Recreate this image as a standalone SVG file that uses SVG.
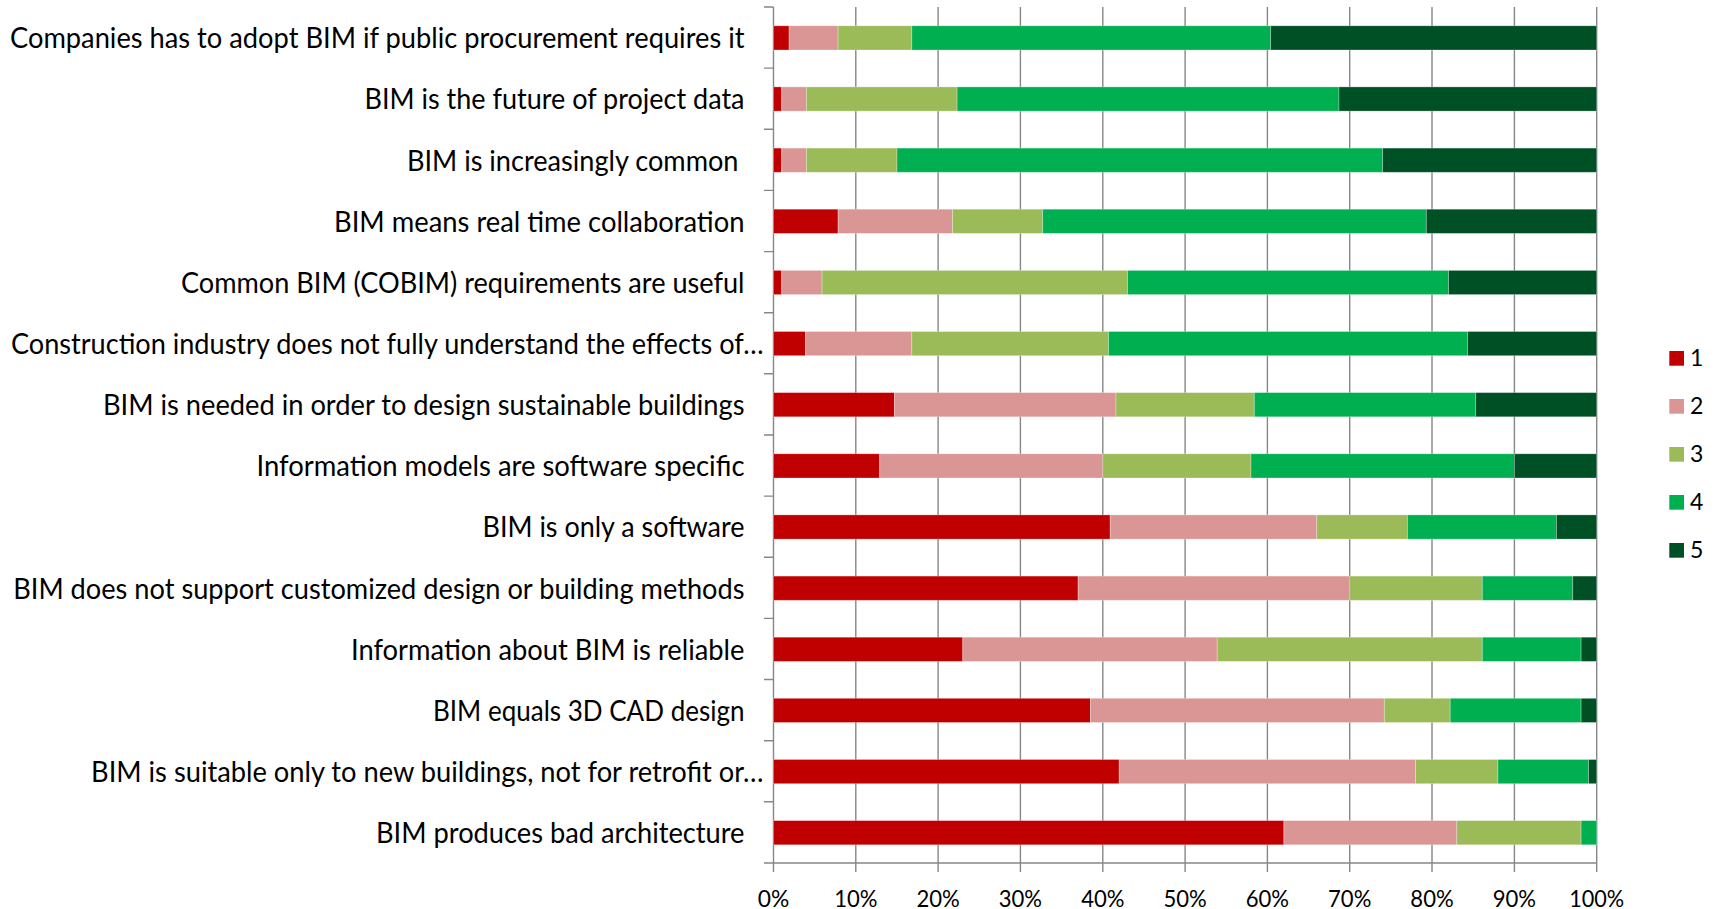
<svg xmlns="http://www.w3.org/2000/svg" width="1719" height="909" viewBox="0 0 1719 909">
<style>
.lbl{font-family:Lato,"Liberation Sans",sans-serif;font-size:28px;fill:#000;text-anchor:end}
.tk{font-family:Lato,"Liberation Sans",sans-serif;font-size:24px;fill:#000;text-anchor:middle}
.lg{font-family:Lato,"Liberation Sans",sans-serif;font-size:23px;fill:#000}
.grid{stroke:#878787;stroke-width:1.4;fill:none}
.c1{fill:#C00000}.c2{fill:#DA9694}.c3{fill:#9BBB59}.c4{fill:#00B050}.c5{fill:#005025}
.bar rect{stroke:#ffffff;stroke-opacity:0.35;stroke-width:0.8}
</style>
<rect width="1719" height="909" fill="#fff"/>
<g id="gridlines" class="grid">
<path d="M855.8 7V872M938.1 7V872M1020.4 7V872M1102.8 7V872M1185.1 7V872M1267.4 7V872M1349.7 7V872M1432 7V872M1514.4 7V872M1596.7 7V872M773.5 863V872"/>
<path d="M773.5 7V863M773.5 863H1596.7"/>
<path d="M764 7H773.5M764 68.1H773.5M764 129.3H773.5M764 190.4H773.5M764 251.6H773.5M764 312.7H773.5M764 373.8H773.5M764 435H773.5M764 496.1H773.5M764 557.3H773.5M764 618.4H773.5M764 679.5H773.5M764 740.7H773.5M764 801.8H773.5M764 863H773.5"/>
</g>
<g id="bars" class="bar">
<g id="row1"><rect class="c1" x="773.5" y="25.8" width="15.6" height="24.2"/><rect class="c2" x="789.1" y="25.8" width="49" height="24.2"/><rect class="c3" x="838.1" y="25.8" width="73.7" height="24.2"/><rect class="c4" x="911.8" y="25.8" width="358.9" height="24.2"/><rect class="c5" x="1270.7" y="25.8" width="326" height="24.2"/></g>
<g id="row2"><rect class="c1" x="773.5" y="86.9" width="8.2" height="24.2"/><rect class="c2" x="781.7" y="86.9" width="24.7" height="24.2"/><rect class="c3" x="806.4" y="86.9" width="150.7" height="24.2"/><rect class="c4" x="957.1" y="86.9" width="381.9" height="24.2"/><rect class="c5" x="1339" y="86.9" width="257.7" height="24.2"/></g>
<g id="row3"><rect class="c1" x="773.5" y="148.1" width="8.2" height="24.2"/><rect class="c2" x="781.7" y="148.1" width="24.7" height="24.2"/><rect class="c3" x="806.4" y="148.1" width="90.6" height="24.2"/><rect class="c4" x="897" y="148.1" width="485.7" height="24.2"/><rect class="c5" x="1382.7" y="148.1" width="214" height="24.2"/></g>
<g id="row4"><rect class="c1" x="773.5" y="209.2" width="64.6" height="24.2"/><rect class="c2" x="838.1" y="209.2" width="114.4" height="24.2"/><rect class="c3" x="952.5" y="209.2" width="90.2" height="24.2"/><rect class="c4" x="1042.7" y="209.2" width="383.6" height="24.2"/><rect class="c5" x="1426.3" y="209.2" width="170.4" height="24.2"/></g>
<g id="row5"><rect class="c1" x="773.5" y="270.4" width="8.2" height="24.2"/><rect class="c2" x="781.7" y="270.4" width="40.4" height="24.2"/><rect class="c3" x="822.1" y="270.4" width="305.4" height="24.2"/><rect class="c4" x="1127.5" y="270.4" width="321" height="24.2"/><rect class="c5" x="1448.5" y="270.4" width="148.2" height="24.2"/></g>
<g id="row6"><rect class="c1" x="773.5" y="331.5" width="32.1" height="24.2"/><rect class="c2" x="805.6" y="331.5" width="106.2" height="24.2"/><rect class="c3" x="911.8" y="331.5" width="196.7" height="24.2"/><rect class="c4" x="1108.5" y="331.5" width="359" height="24.2"/><rect class="c5" x="1467.5" y="331.5" width="129.2" height="24.2"/></g>
<g id="row7"><rect class="c1" x="773.5" y="392.6" width="121" height="24.2"/><rect class="c2" x="894.5" y="392.6" width="221.5" height="24.2"/><rect class="c3" x="1116" y="392.6" width="138.3" height="24.2"/><rect class="c4" x="1254.3" y="392.6" width="221.4" height="24.2"/><rect class="c5" x="1475.7" y="392.6" width="121" height="24.2"/></g>
<g id="row8"><rect class="c1" x="773.5" y="453.8" width="106.2" height="24.2"/><rect class="c2" x="879.7" y="453.8" width="223.1" height="24.2"/><rect class="c3" x="1102.8" y="453.8" width="148.2" height="24.2"/><rect class="c4" x="1251" y="453.8" width="263.4" height="24.2"/><rect class="c5" x="1514.4" y="453.8" width="82.3" height="24.2"/></g>
<g id="row9"><rect class="c1" x="773.5" y="514.9" width="336.7" height="24.2"/><rect class="c2" x="1110.2" y="514.9" width="206.6" height="24.2"/><rect class="c3" x="1316.8" y="514.9" width="90.6" height="24.2"/><rect class="c4" x="1407.4" y="514.9" width="149" height="24.2"/><rect class="c5" x="1556.4" y="514.9" width="40.3" height="24.2"/></g>
<g id="row10"><rect class="c1" x="773.5" y="576.1" width="304.6" height="24.2"/><rect class="c2" x="1078.1" y="576.1" width="271.6" height="24.2"/><rect class="c3" x="1349.7" y="576.1" width="132.6" height="24.2"/><rect class="c4" x="1482.3" y="576.1" width="90.5" height="24.2"/><rect class="c5" x="1572.8" y="576.1" width="23.9" height="24.2"/></g>
<g id="row11"><rect class="c1" x="773.5" y="637.2" width="189.3" height="24.2"/><rect class="c2" x="962.8" y="637.2" width="254.4" height="24.2"/><rect class="c3" x="1217.2" y="637.2" width="265.1" height="24.2"/><rect class="c4" x="1482.3" y="637.2" width="98.8" height="24.2"/><rect class="c5" x="1581.1" y="637.2" width="15.6" height="24.2"/></g>
<g id="row12"><rect class="c1" x="773.5" y="698.3" width="316.9" height="24.2"/><rect class="c2" x="1090.4" y="698.3" width="293.9" height="24.2"/><rect class="c3" x="1384.3" y="698.3" width="65.9" height="24.2"/><rect class="c4" x="1450.2" y="698.3" width="130.9" height="24.2"/><rect class="c5" x="1581.1" y="698.3" width="15.6" height="24.2"/></g>
<g id="row13"><rect class="c1" x="773.5" y="759.5" width="345.7" height="24.2"/><rect class="c2" x="1119.2" y="759.5" width="296.4" height="24.2"/><rect class="c3" x="1415.6" y="759.5" width="82.3" height="24.2"/><rect class="c4" x="1497.9" y="759.5" width="90.6" height="24.2"/><rect class="c5" x="1588.5" y="759.5" width="8.2" height="24.2"/></g>
<g id="row14"><rect class="c1" x="773.5" y="820.6" width="510.4" height="24.2"/><rect class="c2" x="1283.9" y="820.6" width="172.9" height="24.2"/><rect class="c3" x="1456.8" y="820.6" width="124.3" height="24.2"/><rect class="c4" x="1581.1" y="820.6" width="15.6" height="24.2"/></g>
</g>
<g id="category-labels">
<text class="lbl" x="744.5" y="48.2" textLength="734.5" lengthAdjust="spacingAndGlyphs">Companies has to adopt BIM if public procurement requires it</text>
<text class="lbl" x="744.5" y="109.3" textLength="380" lengthAdjust="spacingAndGlyphs">BIM is the future of project data</text>
<text class="lbl" x="738.5" y="170.5" textLength="331.6" lengthAdjust="spacingAndGlyphs">BIM is increasingly common</text>
<text class="lbl" x="744.5" y="231.6" textLength="410.5" lengthAdjust="spacingAndGlyphs">BIM means real time collaboration</text>
<text class="lbl" x="744.5" y="292.8" textLength="563.5" lengthAdjust="spacingAndGlyphs">Common BIM (COBIM) requirements are useful</text>
<text class="lbl" x="763.5" y="353.9" textLength="752.5" lengthAdjust="spacingAndGlyphs">Construction industry does not fully understand the effects of…</text>
<text class="lbl" x="744.5" y="415" textLength="641.5" lengthAdjust="spacingAndGlyphs">BIM is needed in order to design sustainable buildings</text>
<text class="lbl" x="744.5" y="476.2" textLength="488" lengthAdjust="spacingAndGlyphs">Information models are software specific</text>
<text class="lbl" x="744.5" y="537.3" textLength="262" lengthAdjust="spacingAndGlyphs">BIM is only a software</text>
<text class="lbl" x="744.5" y="598.5" textLength="731.3" lengthAdjust="spacingAndGlyphs">BIM does not support customized design or building methods</text>
<text class="lbl" x="744.5" y="659.6" textLength="393.5" lengthAdjust="spacingAndGlyphs">Information about BIM is reliable</text>
<text class="lbl" x="744.5" y="720.7" textLength="311.5" lengthAdjust="spacingAndGlyphs">BIM equals 3D CAD design</text>
<text class="lbl" x="763.5" y="781.9" textLength="672.5" lengthAdjust="spacingAndGlyphs">BIM is suitable only to new buildings, not for retrofit or…</text>
<text class="lbl" x="744.5" y="843" textLength="368.5" lengthAdjust="spacingAndGlyphs">BIM produces bad architecture</text>
</g>
<g id="axis-labels">
<text class="tk" x="773.5" y="906.5" textLength="31.5" lengthAdjust="spacingAndGlyphs">0%</text>
<text class="tk" x="855.8" y="906.5" textLength="43.3" lengthAdjust="spacingAndGlyphs">10%</text>
<text class="tk" x="938.1" y="906.5" textLength="43.3" lengthAdjust="spacingAndGlyphs">20%</text>
<text class="tk" x="1020.4" y="906.5" textLength="43.3" lengthAdjust="spacingAndGlyphs">30%</text>
<text class="tk" x="1102.8" y="906.5" textLength="43.3" lengthAdjust="spacingAndGlyphs">40%</text>
<text class="tk" x="1185.1" y="906.5" textLength="43.3" lengthAdjust="spacingAndGlyphs">50%</text>
<text class="tk" x="1267.4" y="906.5" textLength="43.3" lengthAdjust="spacingAndGlyphs">60%</text>
<text class="tk" x="1349.7" y="906.5" textLength="43.3" lengthAdjust="spacingAndGlyphs">70%</text>
<text class="tk" x="1432" y="906.5" textLength="43.3" lengthAdjust="spacingAndGlyphs">80%</text>
<text class="tk" x="1514.4" y="906.5" textLength="43.3" lengthAdjust="spacingAndGlyphs">90%</text>
<text class="tk" x="1596.7" y="906.5" textLength="55" lengthAdjust="spacingAndGlyphs">100%</text>
</g>
<g id="legend">
<g id="legend-1"><rect class="c1" x="1669.3" y="351" width="14.7" height="14.7"/><text class="lg" x="1690" y="366">1</text></g>
<g id="legend-2"><rect class="c2" x="1669.3" y="399" width="14.7" height="14.7"/><text class="lg" x="1690" y="414">2</text></g>
<g id="legend-3"><rect class="c3" x="1669.3" y="447" width="14.7" height="14.7"/><text class="lg" x="1690" y="462">3</text></g>
<g id="legend-4"><rect class="c4" x="1669.3" y="495" width="14.7" height="14.7"/><text class="lg" x="1690" y="510">4</text></g>
<g id="legend-5"><rect class="c5" x="1669.3" y="543" width="14.7" height="14.7"/><text class="lg" x="1690" y="558">5</text></g>
</g>
</svg>
